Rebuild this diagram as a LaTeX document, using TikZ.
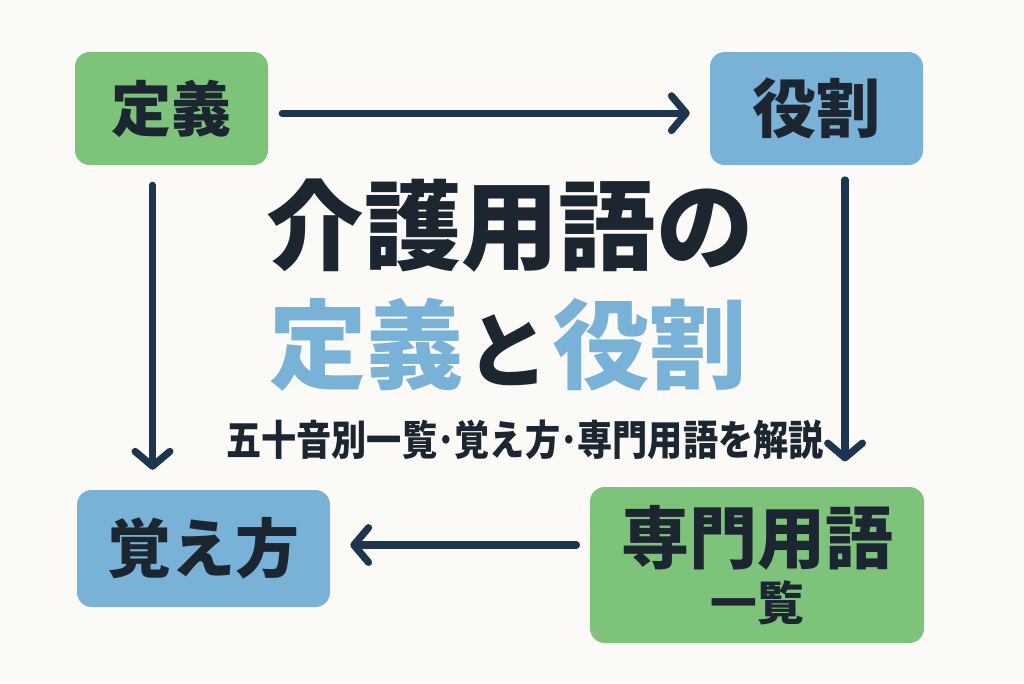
\documentclass[tikz,border=0pt]{standalone}
\usepackage{fontspec}
\usepackage{graphicx}
\setmainfont{Noto Sans CJK JP}
\usetikzlibrary{arrows.meta}
\definecolor{bg}{HTML}{FBFAF6}
\definecolor{greenC}{HTML}{7DC37A}
\definecolor{blueC}{HTML}{78B2D7}
\definecolor{darkT}{HTML}{1B2631}
\definecolor{arrC}{HTML}{1E3550}
\tikzset{
  box/.style={rounded corners=11pt, inner sep=0pt, text=darkT, font=\bfseries},
  gbox/.style={box, fill=greenC},
  bbox/.style={box, fill=blueC},
  arr/.style={draw=arrC, line width=5.4pt, line cap=round,
    -{Straight Barb[round, length=11pt, width=26pt, line width=5.4pt]}},
  ttl/.style={text=darkT, font=\bfseries, inner sep=0pt}
}
\begin{document}
\begin{tikzpicture}[x=0.75pt,y=-0.75pt]
\fill[bg] (0,0) rectangle (1024,683);
\useasboundingbox (0,0) rectangle (1024,683);
% boxes
\node[gbox, minimum width=193*0.75pt, minimum height=113*0.75pt, font=\bfseries\fontsize{45}{50}\selectfont] (dg) at (171.5,108.5) {定義};
\node[bbox, minimum width=213*0.75pt, minimum height=113*0.75pt, font=\bfseries\fontsize{48}{52}\selectfont] (yw) at (816.5,108.5) {役割};
\node[bbox, minimum width=253*0.75pt, minimum height=117*0.75pt, font=\bfseries\fontsize{48}{52}\selectfont] (ob) at (203.5,548.5) {覚え方};
\node[gbox, minimum width=334*0.75pt, minimum height=156*0.75pt, align=center] (sm) at (757,565)
  {{\fontsize{51}{56}\selectfont 専門用語}\\[7pt]{\fontsize{35}{40}\selectfont 一覧}};
% title
\node[ttl, font=\bfseries\fontsize{73}{80}\selectfont] (t1) at (510,226) {介護用語の};
\node[ttl, font=\bfseries\fontsize{73}{80}\selectfont] (t2) at (508,345) {{\color{blueC}定義}\hspace{2pt}{\fontsize{62}{70}\selectfont と}\hspace{2pt}{\color{blueC}役割}};
\node[ttl, font=\bfseries\fontsize{31}{36}\selectfont] (t3) at (525,440) {\scalebox{0.85}[1]{五十音別一覧･覚え方･専門用語を解説}};
% arrows
\draw[arr, shorten <=10.5pt, shorten >=15pt] ([yshift=-3.5pt]dg.east) -- ([yshift=-3.5pt]yw.west);
\draw[arr, shorten <=15pt, shorten >=15pt] ([xshift=-14.25pt]dg.south) -- ([xshift=-14.25pt]dg.south |- ob.north);
\draw[arr, shorten <=11pt, shorten >=19pt] ([xshift=21.4pt]yw.south) -- ([xshift=21.4pt]yw.south |- sm.north);
\draw[arr, shorten <=10pt, shorten >=15pt] ([yshift=2.6pt]sm.west |- ob.east) -- ([yshift=2.6pt]ob.east);
\end{tikzpicture}
\end{document}
